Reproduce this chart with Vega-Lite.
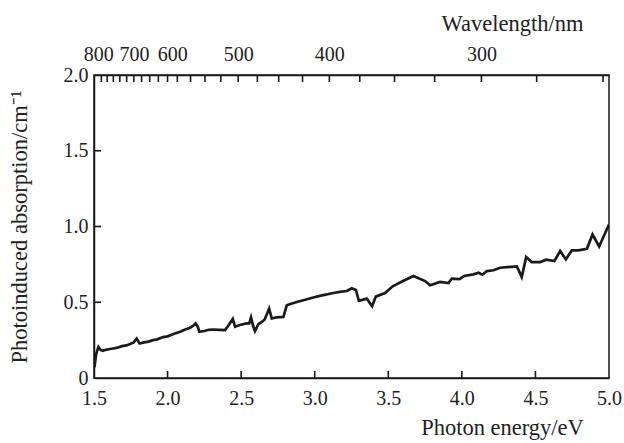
{
  "$schema": "https://vega.github.io/schema/vega-lite/v6.json",
  "autosize": "none",
  "width": 515,
  "height": 303,
  "padding": {"left": 94, "top": 75, "right": 15, "bottom": 65},
  "background": "white",
  "config": {
    "view": {"stroke": "#1a1a1a", "strokeWidth": 1.5},
    "axis": {
      "grid": false,
      "labelFont": "Liberation Serif",
      "titleFont": "Liberation Serif",
      "labelFontSize": 20,
      "titleFontSize": 22.5,
      "titleFontWeight": "normal",
      "labelColor": "#222222",
      "titleColor": "#222222",
      "domainColor": "#1a1a1a",
      "domainWidth": 1.5
    }
  },
  "datasets": {
    "curve": [
      {"energy": 1.503, "absorption": 0.07},
      {"energy": 1.515, "absorption": 0.16},
      {"energy": 1.53, "absorption": 0.205},
      {"energy": 1.545, "absorption": 0.185},
      {"energy": 1.56, "absorption": 0.18},
      {"energy": 1.58, "absorption": 0.186},
      {"energy": 1.6, "absorption": 0.19},
      {"energy": 1.63, "absorption": 0.195},
      {"energy": 1.66, "absorption": 0.2},
      {"energy": 1.69, "absorption": 0.21},
      {"energy": 1.72, "absorption": 0.215},
      {"energy": 1.745, "absorption": 0.224},
      {"energy": 1.77, "absorption": 0.235},
      {"energy": 1.79, "absorption": 0.26},
      {"energy": 1.81, "absorption": 0.228},
      {"energy": 1.84, "absorption": 0.235},
      {"energy": 1.87, "absorption": 0.24},
      {"energy": 1.9, "absorption": 0.25},
      {"energy": 1.93, "absorption": 0.255},
      {"energy": 1.97, "absorption": 0.27},
      {"energy": 2.0, "absorption": 0.275},
      {"energy": 2.04, "absorption": 0.29},
      {"energy": 2.085, "absorption": 0.305},
      {"energy": 2.12, "absorption": 0.32},
      {"energy": 2.15, "absorption": 0.33},
      {"energy": 2.175, "absorption": 0.345},
      {"energy": 2.19, "absorption": 0.36},
      {"energy": 2.205, "absorption": 0.34},
      {"energy": 2.216, "absorption": 0.305},
      {"energy": 2.25, "absorption": 0.31},
      {"energy": 2.28, "absorption": 0.318},
      {"energy": 2.31, "absorption": 0.32},
      {"energy": 2.35, "absorption": 0.318},
      {"energy": 2.39, "absorption": 0.316},
      {"energy": 2.41, "absorption": 0.342},
      {"energy": 2.443, "absorption": 0.39},
      {"energy": 2.459, "absorption": 0.338},
      {"energy": 2.49, "absorption": 0.35},
      {"energy": 2.538, "absorption": 0.36},
      {"energy": 2.555, "absorption": 0.36},
      {"energy": 2.567, "absorption": 0.4},
      {"energy": 2.583, "absorption": 0.338},
      {"energy": 2.594, "absorption": 0.31},
      {"energy": 2.617, "absorption": 0.355},
      {"energy": 2.64, "absorption": 0.37},
      {"energy": 2.66, "absorption": 0.386},
      {"energy": 2.69, "absorption": 0.458},
      {"energy": 2.708, "absorption": 0.393},
      {"energy": 2.74, "absorption": 0.4},
      {"energy": 2.787, "absorption": 0.403},
      {"energy": 2.81, "absorption": 0.48},
      {"energy": 2.84, "absorption": 0.49},
      {"energy": 2.878, "absorption": 0.502},
      {"energy": 2.93, "absorption": 0.515},
      {"energy": 2.99, "absorption": 0.531},
      {"energy": 3.05, "absorption": 0.545},
      {"energy": 3.127, "absorption": 0.561},
      {"energy": 3.17, "absorption": 0.568},
      {"energy": 3.218, "absorption": 0.574},
      {"energy": 3.252, "absorption": 0.592},
      {"energy": 3.28, "absorption": 0.581},
      {"energy": 3.3, "absorption": 0.509},
      {"energy": 3.354, "absorption": 0.524},
      {"energy": 3.39, "absorption": 0.474},
      {"energy": 3.415, "absorption": 0.537},
      {"energy": 3.478, "absorption": 0.561},
      {"energy": 3.53, "absorption": 0.605},
      {"energy": 3.6, "absorption": 0.64},
      {"energy": 3.671, "absorption": 0.673},
      {"energy": 3.75, "absorption": 0.64},
      {"energy": 3.784, "absorption": 0.612},
      {"energy": 3.852, "absorption": 0.634},
      {"energy": 3.909, "absorption": 0.627},
      {"energy": 3.932, "absorption": 0.656},
      {"energy": 3.984, "absorption": 0.653},
      {"energy": 4.015, "absorption": 0.673},
      {"energy": 4.079, "absorption": 0.684},
      {"energy": 4.113, "absorption": 0.695},
      {"energy": 4.14, "absorption": 0.682},
      {"energy": 4.17, "absorption": 0.706},
      {"energy": 4.215, "absorption": 0.711},
      {"energy": 4.26, "absorption": 0.728},
      {"energy": 4.374, "absorption": 0.737},
      {"energy": 4.407, "absorption": 0.666},
      {"energy": 4.437, "absorption": 0.798},
      {"energy": 4.475, "absorption": 0.765},
      {"energy": 4.532, "absorption": 0.765},
      {"energy": 4.573, "absorption": 0.781},
      {"energy": 4.629, "absorption": 0.772},
      {"energy": 4.668, "absorption": 0.838},
      {"energy": 4.707, "absorption": 0.783},
      {"energy": 4.747, "absorption": 0.842},
      {"energy": 4.792, "absorption": 0.842},
      {"energy": 4.85, "absorption": 0.853},
      {"energy": 4.888, "absorption": 0.947},
      {"energy": 4.933, "absorption": 0.868},
      {"energy": 5.0, "absorption": 1.013}
    ],
    "energyTicks": [
      {"energy": 2.0}, {"energy": 2.5}, {"energy": 3.0}, {"energy": 3.5}, {"energy": 4.0}, {"energy": 4.5}
    ],
    "wavelengthTicks": [
      {"wavelength": 800, "energy": 1.5498}, {"wavelength": 780, "energy": 1.5895}, {"wavelength": 760, "energy": 1.6314},
      {"wavelength": 740, "energy": 1.6755}, {"wavelength": 720, "energy": 1.722}, {"wavelength": 700, "energy": 1.7712},
      {"wavelength": 680, "energy": 1.8233}, {"wavelength": 660, "energy": 1.8785}, {"wavelength": 640, "energy": 1.9373},
      {"wavelength": 620, "energy": 1.9997}, {"wavelength": 600, "energy": 2.0664}, {"wavelength": 575, "energy": 2.1562},
      {"wavelength": 550, "energy": 2.2543}, {"wavelength": 525, "energy": 2.3616}, {"wavelength": 500, "energy": 2.4797},
      {"wavelength": 475, "energy": 2.6102}, {"wavelength": 450, "energy": 2.7552}, {"wavelength": 425, "energy": 2.9173},
      {"wavelength": 400, "energy": 3.0996}, {"wavelength": 375, "energy": 3.3062}, {"wavelength": 350, "energy": 3.5424},
      {"wavelength": 325, "energy": 3.8149}, {"wavelength": 300, "energy": 4.1328}, {"wavelength": 275, "energy": 4.5085},
      {"wavelength": 250, "energy": 4.9594}
    ],
    "absorptionTicks": [
      {"absorption": 0.5}, {"absorption": 1.0}, {"absorption": 1.5}
    ]
  },
  "layer": [
    {
      "data": {"name": "curve"},
      "mark": {"type": "line", "color": "#1a1a1a", "strokeWidth": 2.7, "clip": true},
      "encoding": {
        "x": {
          "field": "energy",
          "type": "quantitative",
          "scale": {"domain": [1.5, 5.0], "nice": false, "zero": false},
          "axis": {
            "orient": "bottom",
            "values": [1.5, 2.0, 2.5, 3.0, 3.5, 4.0, 4.5, 5.0],
            "labelExpr": "format(datum.value, '.1f')",
            "ticks": false,
            "labelPadding": 10,
            "labelFlush": false,
            "labelOverlap": false,
            "title": "Photon energy/eV",
            "titleX": 408,
            "titleY": 56,
            "titleAlign": "center",
            "titleBaseline": "alphabetic",
            "titleAnchor": null
          }
        },
        "y": {
          "field": "absorption",
          "type": "quantitative",
          "scale": {"domain": [0, 2], "nice": false},
          "axis": {
            "orient": "left",
            "values": [0, 0.5, 1.0, 1.5, 2.0],
            "labelExpr": "datum.value == 0 ? '0' : format(datum.value, '.1f')",
            "ticks": false,
            "labelPadding": 6,
            "labelFlush": false,
            "labelOverlap": false,
            "title": "Photoinduced absorption/cm⁻¹",
            "titleX": -68,
            "titleBaseline": "alphabetic"
          }
        }
      }
    },
    {
      "data": {"name": "wavelengthTicks"},
      "mark": {"type": "tick", "orient": "vertical", "size": 7, "thickness": 1.6, "color": "#1a1a1a", "opacity": 1, "yOffset": 3.5, "clip": false},
      "encoding": {
        "x": {
          "field": "energy",
          "type": "quantitative",
          "axis": {
            "orient": "top",
            "values": [1.5498, 1.7712, 2.0664, 2.4797, 3.0996, 4.1328],
            "labelExpr": "format(round(1239.84 / datum.value), 'd')",
            "labelOffset": {"condition": [{"test": "datum.value < 1.6", "value": -3}, {"test": "datum.value > 2.0 && datum.value < 2.1", "value": -5}], "value": 0},
            "ticks": false,
            "domain": true,
            "labelPadding": 11,
            "labelFlush": false,
            "labelOverlap": false,
            "title": "Wavelength/nm",
            "titleX": 418,
            "titleY": -45,
            "titleAlign": "center",
            "titleBaseline": "alphabetic",
            "titleAnchor": null
          }
        },
        "y": {"datum": 2, "type": "quantitative", "axis": null}
      }
    },
    {
      "data": {"name": "energyTicks"},
      "mark": {"type": "tick", "orient": "vertical", "size": 7, "thickness": 1.6, "color": "#1a1a1a", "opacity": 1, "yOffset": -3.5, "clip": false},
      "encoding": {
        "x": {"field": "energy", "type": "quantitative", "axis": null},
        "y": {"datum": 0, "type": "quantitative", "axis": null}
      }
    },
    {
      "data": {"name": "absorptionTicks"},
      "mark": {"type": "tick", "orient": "horizontal", "size": 7, "thickness": 1.6, "color": "#1a1a1a", "opacity": 1, "xOffset": 3.5, "clip": false},
      "encoding": {
        "x": {"datum": 1.5, "type": "quantitative", "axis": null},
        "y": {"field": "absorption", "type": "quantitative", "axis": null}
      }
    }
  ],
  "resolve": {"axis": {"x": "independent", "y": "independent"}}
}
